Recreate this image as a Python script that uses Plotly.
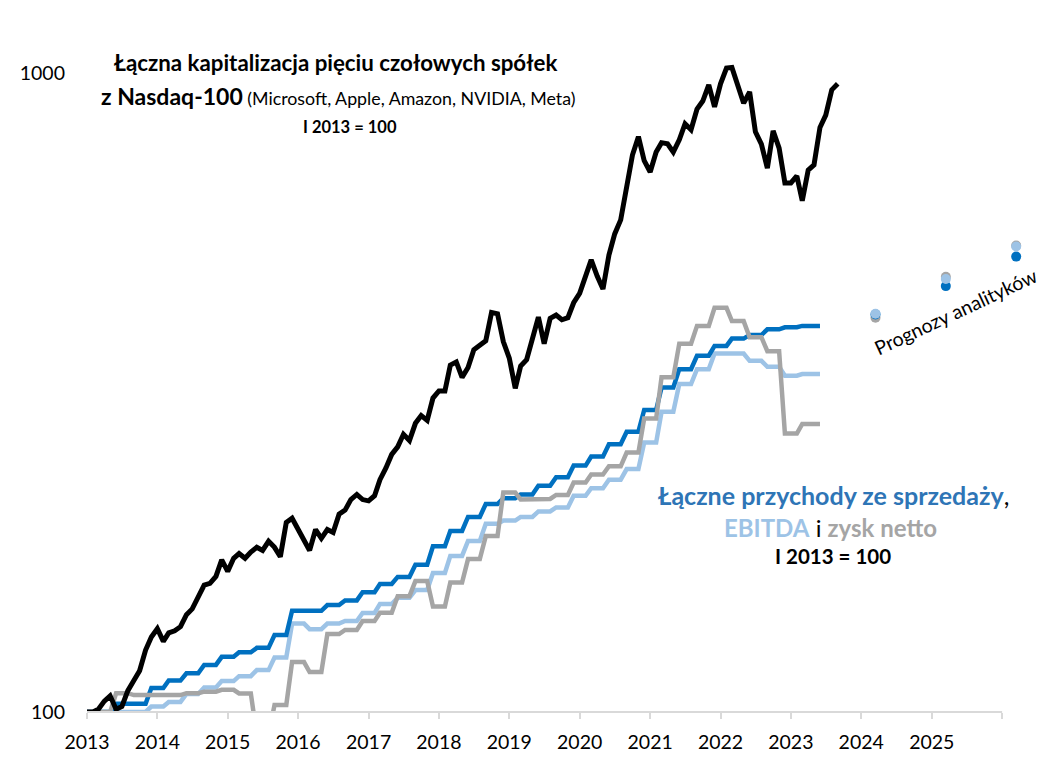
import numpy as np
import pandas as pd
import plotly.graph_objects as go

# ---------------- data ----------------
start_month = "2013-01-01"

# Combined market cap of top-5 Nasdaq-100 companies, monthly, I 2013 = 100
market_cap = [100, 100, 101, 104, 106, 101, 102, 108, 112, 116,
              125, 131, 135, 129, 133, 134, 136, 142, 145, 151,
              158, 159, 163, 173, 166, 174, 177, 174, 178, 181,
              179, 185, 181, 175, 198, 201, 193, 186, 179, 193,
              187, 193, 191, 204, 207, 215, 219, 215, 214, 218,
              231, 241, 253, 260, 272, 266, 283, 291, 286, 310,
              318, 318, 349, 353, 334, 346, 369, 375, 381, 422,
              420, 380, 358, 321, 348, 356, 385, 415, 377, 413,
              418, 411, 414, 437, 452, 480, 510, 481, 459, 519,
              560, 589, 669, 744, 795, 729, 700, 752, 778, 775,
              752, 786, 833, 815, 878, 904, 958, 885, 962, 1018,
              1020, 958, 897, 934, 809, 774, 710, 812, 763, 673,
              673, 690, 631, 705, 718, 822, 859, 941, 962]

# Quarterly fundamentals (held for each month of the quarter), I 2013 = 100
revenue_q = [100, 100, 103, 103, 109, 112, 115, 118.5, 122, 124,
             126, 132, 144, 144, 147, 149.5, 154, 158.6, 162.7, 170,
             181.7, 192, 202, 211.6, 216, 219, 226, 233, 243, 251,
             262.5, 274.6, 297, 322, 344, 361, 374, 384, 389, 397,
             400, 402, 402]
ebitda_q = [100, 100, 100, 100, 102, 103.7, 106.7, 109.2, 111.8, 113.8,
            116.3, 121.7, 137.5, 134.8, 137.5, 138.8, 142.9, 147.6, 150.9, 155.2,
            165, 175.5, 185.2, 197, 199.3, 202, 206, 209, 218, 224,
            231, 240, 264, 295, 326, 344, 364, 364, 354.5, 347,
            336, 338, 338]
net_income_q = [100, 100, 107, 106.3, 106.3, 106.3, 107, 107.6, 108.3, 106.9,
                92, 102.6, 119.7, 115.5, 132.4, 134.4, 138.8, 143, 151.8, 160.3,
                146.3, 159.4, 173.5, 188.5, 220.5, 215, 215.5, 218.6, 228.6, 235.3,
                242.4, 254.7, 288, 334, 377, 402, 429, 409, 386, 367,
                272.7, 282.4, 282.4]
fin_months = 126

# Analysts' forecasts
forecast_dates = ["2024-03-15", "2025-03-15", "2026-03-15"]
fc_revenue = [419, 464, 516]
fc_ebitda = [420, 476, 535]
fc_net_income = [414, 480, 537]

year_ticks = list(range(2013, 2027))
year_labels = [str(y) for y in range(2013, 2026)] + [""]
y_ticks = [100, 1000]

# ---------------- styles / layout ----------------
C_BLACK = "#000000"
C_REV = "#0070C0"
C_REV_TXT = "#2E75B6"
C_EBITDA = "#9DC3E6"
C_NET = "#A5A5A5"
C_AXIS = "#D9D9D9"
FONT = "Lato"

PAGE_OFF = 8            # browser body margin
W, H = 1055, 760        # figure size (page is 1063x768)
ML, MT, MB = 72, 46, 56
PW = 957                # plot width (x range 2013-01 .. 2026-07)
MR = W - ML - PW
PH = H - MT - MB


def page2paper(x, y):
    """page pixel -> paper coordinates"""
    return (x - PAGE_OFF - ML) / PW, (H - MB - (y - PAGE_OFF)) / PH


def monthly(q):
    return np.repeat(np.array(q, dtype=float), 3)[1:1 + fin_months]


cap_dates = pd.date_range(start_month, periods=len(market_cap), freq="MS")
fin_dates = pd.date_range(start_month, periods=fin_months, freq="MS")

fig = go.Figure()
fig.add_trace(go.Scatter(x=fin_dates, y=monthly(ebitda_q), mode="lines",
                         line=dict(color=C_EBITDA, width=4.5), name="EBITDA"))
fig.add_trace(go.Scatter(x=fin_dates, y=monthly(revenue_q), mode="lines",
                         line=dict(color=C_REV, width=4.5), name="Przychody"))
fig.add_trace(go.Scatter(x=fin_dates, y=monthly(net_income_q), mode="lines",
                         line=dict(color=C_NET, width=4.5), name="Zysk netto"))
fig.add_trace(go.Scatter(x=cap_dates, y=market_cap, mode="lines",
                         line=dict(color=C_BLACK, width=5), name="Kapitalizacja"))

for vals, col in [(fc_net_income, C_NET), (fc_revenue, C_REV), (fc_ebitda, C_EBITDA)]:
    fig.add_trace(go.Scatter(x=forecast_dates, y=vals, mode="markers",
                             marker=dict(color=col, size=10), cliponaxis=False,
                             showlegend=False))

# x-axis baseline from 2013 to 2026 only
fig.add_shape(type="line", xref="x", yref="paper",
              x0="2013-01-01", x1="2026-01-01", y0=0, y1=0,
              line=dict(color=C_AXIS, width=2), layer="above")

annots = []


def add_text(x, y, text, size, **kw):
    ax, ay = page2paper(x, y)
    annots.append(dict(x=ax, y=ay, xref="paper", yref="paper", text=text,
                       showarrow=False, xanchor="center", yanchor="middle",
                       font=dict(family=FONT, size=size, color="#000000"), **kw))


add_text(330, 62, "<b>Łączna kapitalizacja pięciu czołowych spółek</b>", 22.3)
add_text(333, 96, "<b>z Nasdaq-100</b><span style='font-size:17.8px'> "
                  "(Microsoft, Apple, Amazon, NVIDIA, Meta)</span>", 23)
add_text(345, 127, "<b>I 2013 = 100</b>", 16.5)

add_text(832, 495, f"<b><span style='color:{C_REV_TXT}'>Łączne przychody ze sprzedaży</span></b>,", 25)
add_text(829, 527, f"<b><span style='color:{C_EBITDA}'>EBITDA</span></b> i "
                   f"<b><span style='color:{C_NET}'>zysk netto</span></b>", 24)
add_text(832, 556, "<b>I 2013 = 100</b>", 20.5)

add_text(955, 311, "Prognozy analityków", 19.5, textangle=-25)

fig.update_layout(
    width=W, height=H,
    margin=dict(l=ML, r=MR, t=MT, b=MB),
    paper_bgcolor="white", plot_bgcolor="white",
    showlegend=False,
    font=dict(family=FONT, size=19, color="#000000"),
    annotations=annots,
)
fig.update_xaxes(
    type="date",
    range=["2013-01-01", "2026-07-01"],
    tickvals=[f"{y}-01-01" for y in year_ticks],
    ticktext=year_labels,
    showgrid=False, zeroline=False, showline=False,
    ticks="outside", ticklen=6, tickcolor=C_AXIS, tickwidth=2,
    tickfont=dict(family=FONT, size=19.5, color="#000000"),
    ticklabelstandoff=7,
)
fig.update_yaxes(
    type="log",
    range=[2, 2 + PH / 639],
    tickvals=y_ticks, ticktext=[str(v) for v in y_ticks],
    showgrid=False, zeroline=False, showline=False,
    ticks="", tickfont=dict(family=FONT, size=19.5, color="#000000"),
    ticklabelstandoff=21,
)

fig.write_html("out.html")
